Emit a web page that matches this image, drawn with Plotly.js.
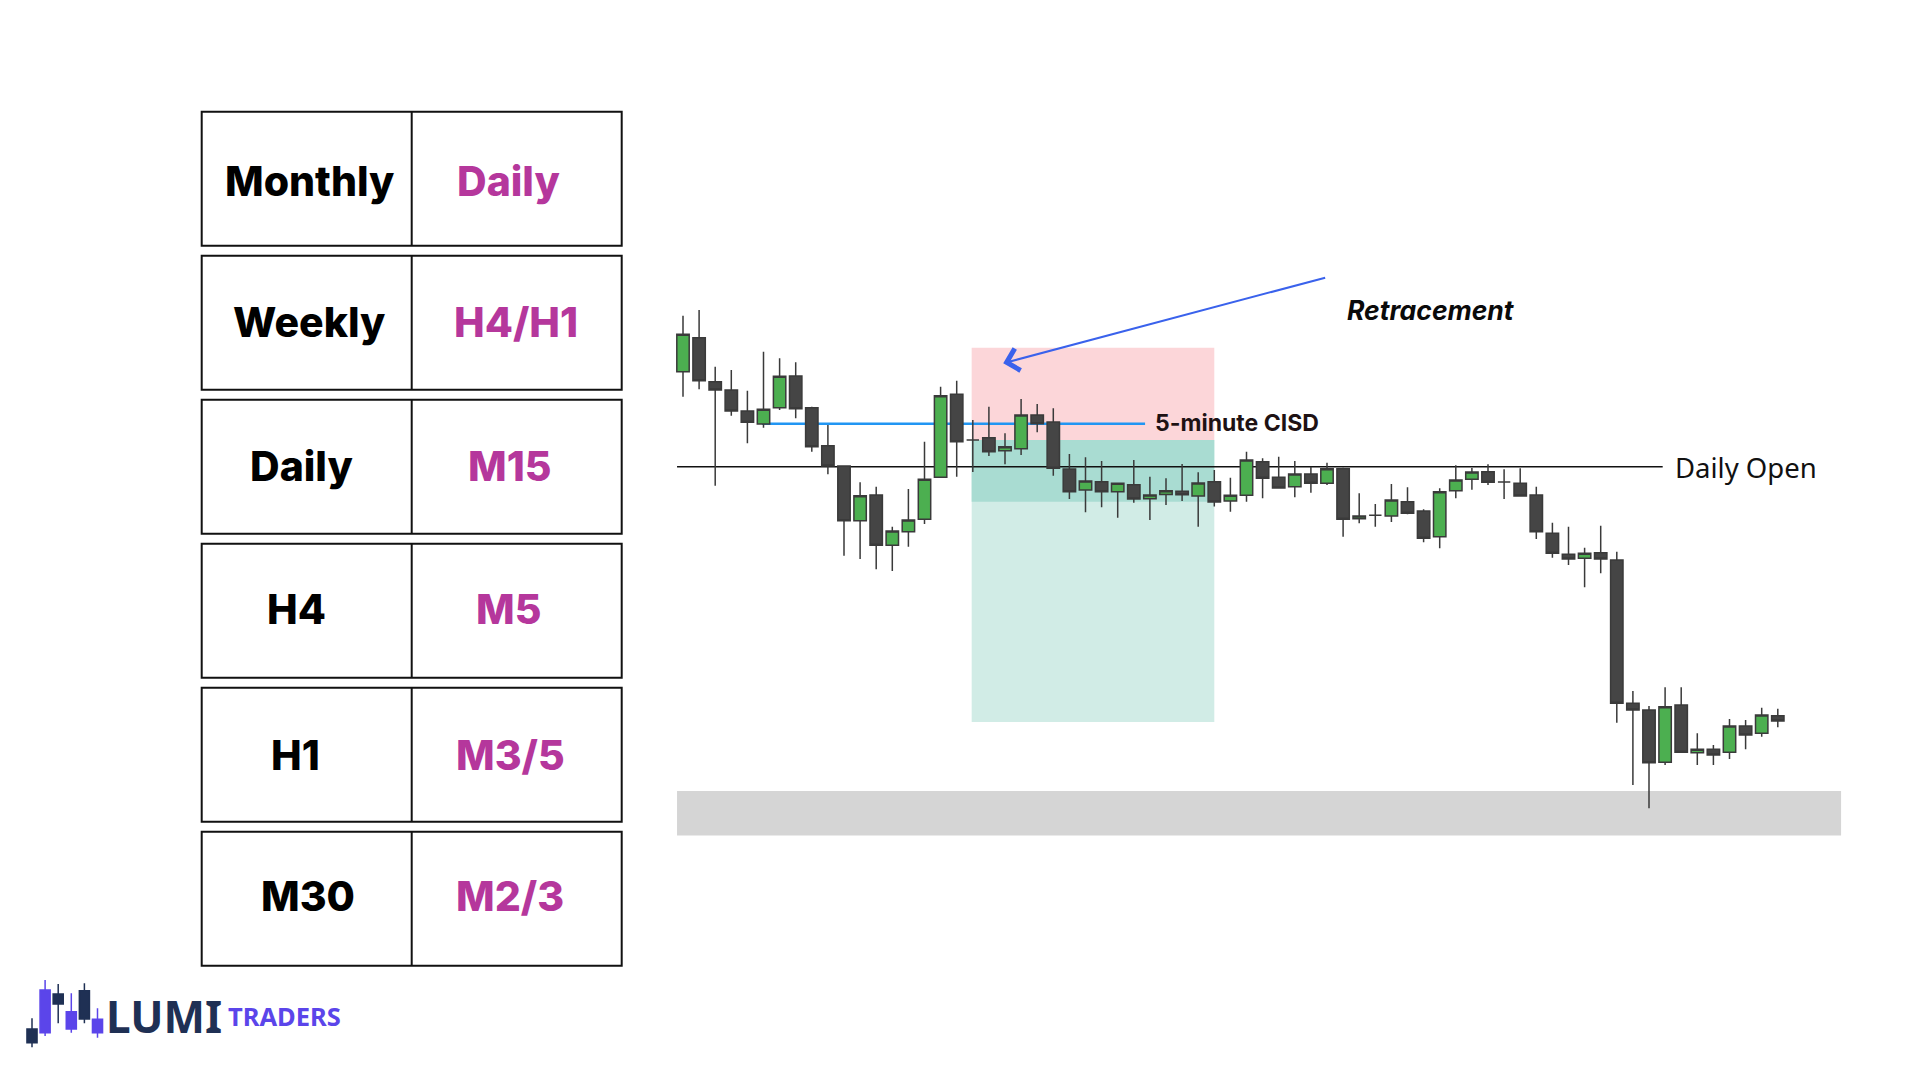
<!DOCTYPE html>
<html>
<head>
<meta charset="utf-8">
<script src="https://cdn.plot.ly/plotly-3.0.1.min.js"></script>
<style>html,body{margin:0;padding:0;background:#fff;}#chart{width:1920px;height:1080px;}</style>
</head>
<body>
<div id="chart"></div>
<script>
// ---------- DATA ----------
const times = ["08:00","08:05","08:10","08:15","08:20","08:25","08:30","08:35","08:40","08:45",
"08:50","08:55","09:00","09:05","09:10","09:15","09:20","09:25","09:30","09:35",
"09:40","09:45","09:50","09:55","10:00","10:05","10:10","10:15","10:20","10:25",
"10:30","10:35","10:40","10:45","10:50","10:55","11:00","11:05","11:10","11:15",
"11:20","11:25","11:30","11:35","11:40","11:45","11:50","11:55","12:00","12:05",
"12:10","12:15","12:20","12:25","12:30","12:35","12:40","12:45","12:50","12:55",
"13:00","13:05","13:10","13:15","13:20","13:25","13:30","13:35","13:40"];
const openP  = [708.3,742.3,698.3,690,669,656,672.3,704,672.3,634.3,
614,559.3,585,534.7,548.3,560.7,602.7,685.7,640,642.3,
629.3,631.3,665,658,611,590,598.3,588.3,595.3,581.3,
585.5,588.7,584,598.3,579,584.7,618.3,602.7,593.3,606,
596.7,611.3,561.3,564.7,564,578.3,569,543.3,589.3,600.7,
608.3,598,596.7,585,546.7,525.7,521.7,527.3,520,376.7,
370,317.7,375,327.3,330.7,327.7,354,346.7,364.3];
const highP  = [764.3,770,713.3,710,689.3,728.3,721.7,717.7,673.3,655,
614,597.7,593.3,553.3,591,638.3,693.3,699.3,660,673.3,
646.7,681,676,671.7,626,622.7,619,597,620,603.3,
601.7,616,607.7,610,602.3,628.3,621.7,623.3,619,613.3,
617.3,612.3,586.7,576,596,592.7,570.7,591.7,614.7,612,
615.7,610.7,611.7,593.3,557.3,553.3,532.3,554.3,528.3,389,
374,392.7,392.7,346.7,335,361,360,372.3,371.3];
const lowP   = [683.3,690.7,594.3,664.3,636.7,652.3,670,661.7,628.3,605.7,
524.3,521,510.7,509,533.3,556,602.7,603.3,608,624,
615.7,625,647.7,604.3,581,567.7,572.7,562.3,577.3,560,
575,579,553.3,573.5,568.3,578.3,581.7,591.7,582.7,587.3,
595,543.3,556.7,553.3,558,565.7,537.7,531.7,581.7,590.3,
595,581,583.3,541,522.3,515,492.7,506.7,357.3,295,
271.7,315,327.7,315,315,321,330.7,343.3,352.7];
const closeP = [745.7,699.3,690,669,657.7,670.7,703.7,671.3,633.3,614,
559.3,584.3,534.7,549,560,600.7,684.3,638.3,640,628.3,
633.3,665,656.3,611.7,588.3,599,588.3,596.7,581,585,
589.3,585.3,597,578,584.7,620,601.7,592,606,596.7,
611.3,560.7,564,564.7,580,566.7,541.7,588.3,600,608,
597.7,598,584,548.3,526.7,521,526.7,521,376.7,370,
317.3,373.3,327.7,330.7,325,354,345,365,359];

// key levels / zones (price units)
const dailyOpen = 613.3;
const cisdLevel = 656.3;
const riskZone = {from: 17.93, to: 33.0, top: 732.3, bottom: 640};
const targetZone = {from: 17.93, to: 33.0, top: 640, bottom: 358};
const fvgBand = {from: 17.93, to: 33.0, top: 640, bottom: 578.3};
const supportZone = {from: -0.37, to: 71.93, top: 289, bottom: 244.5};
const dailyOpenSpan = [-0.37, 60.85];
const cisdSpan = [4.9, 28.7];
const arrowTip = [19.89, 716.7];
const arrowTail = [39.98, 802.7];

// timeframe table
const htfLabels = ["Monthly","Weekly","Daily","H4","H1","M30"];
const ltfLabels = ["Daily","H4/H1","M15","M5","M3/5","M2/3"];

// logo icon candles
const logoX = [0,1,2,3,4,5];
const logoOpen  = [51,47.3,86,51,89.3,47.3];
const logoHigh  = [61.7,100,96,86.7,96.7,71.7];
const logoLow   = [32.7,44,56.7,47.3,56.7,42.3];
const logoClose = [37.3,90,76,68.3,61,60.7];

// ---------- FIGURE ----------
const W = 1920, H = 1080;
const px = v => v / W;
const py = v => 1 - v / H;

const traces = [
  {
    type: 'candlestick', x: times, open: openP, high: highP, low: lowP, close: closeP,
    xaxis: 'x', yaxis: 'y', whiskerwidth: 0,
    increasing: {fillcolor: '#4caf50', line: {color: '#3a3a3a', width: 1.5}},
    decreasing: {fillcolor: '#454545', line: {color: '#3a3a3a', width: 1.5}},
    hoverinfo: 'skip'
  },
  {
    type: 'candlestick', x: logoX, open: logoOpen, high: logoHigh, low: logoLow, close: logoClose,
    xaxis: 'x2', yaxis: 'y2', whiskerwidth: 0,
    increasing: {fillcolor: '#5b45ea', line: {color: '#5b45ea', width: 1.5}},
    decreasing: {fillcolor: '#1f3054', line: {color: '#1f3054', width: 1.5}},
    hoverinfo: 'skip'
  }
];

const shapes = [];
function zoneRect(z, color) {
  shapes.push({type: 'rect', xref: 'x', yref: 'y', x0: z.from, x1: z.to, y0: z.bottom, y1: z.top,
    fillcolor: color, line: {width: 0}, layer: 'below'});
}
zoneRect(riskZone, '#fcd6d9');
zoneRect(targetZone, '#d1ece6');
zoneRect(fvgBand, '#a9dcd2');
zoneRect(supportZone, '#d5d5d5');
shapes.push({type: 'line', xref: 'x', yref: 'y', x0: dailyOpenSpan[0], x1: dailyOpenSpan[1],
  y0: dailyOpen, y1: dailyOpen, line: {color: '#111111', width: 1.5}, layer: 'below'});
shapes.push({type: 'line', xref: 'x', yref: 'y', x0: cisdSpan[0], x1: cisdSpan[1],
  y0: cisdLevel, y1: cisdLevel, line: {color: '#2196f3', width: 2.5}, layer: 'below'});

// table
const tableLeft = 201.7, tableRight = 621.7, tableDiv = 411.7, rowTop0 = 111.7, rowH = 134, rowPitch = 144;
const leftCenters = [309, 309, 301, 296.5, 295, 308];
const rightCenters = [508, 515.7, 510, 508, 510, 509.6];
const textCenterY = [180.7, 322.2, 465.7, 608.7, 754.7, 895.7];
const annotations = [];
htfLabels.forEach((lab, k) => {
  const t = rowTop0 + rowPitch * k, b = t + rowH;
  shapes.push({type: 'rect', xref: 'paper', yref: 'paper', x0: px(tableLeft), x1: px(tableRight),
    y0: py(b), y1: py(t), line: {color: '#111111', width: 2}, fillcolor: 'rgba(0,0,0,0)'});
  shapes.push({type: 'line', xref: 'paper', yref: 'paper', x0: px(tableDiv), x1: px(tableDiv),
    y0: py(b), y1: py(t), line: {color: '#111111', width: 2}});
  const cy = py(textCenterY[k]);
  annotations.push({xref: 'paper', yref: 'paper', x: px(leftCenters[k]), y: cy, text: lab, showarrow: false,
    xanchor: 'center', yanchor: 'middle',
    font: {family: 'Inter, Lato, sans-serif', size: 41, weight: 800, color: '#000000'}});
  annotations.push({xref: 'paper', yref: 'paper', x: px(rightCenters[k]), y: cy, text: ltfLabels[k], showarrow: false,
    xanchor: 'center', yanchor: 'middle',
    font: {family: 'Inter, Lato, sans-serif', size: 41, weight: 800, color: '#b5379c'}});
});

// chart labels
annotations.push({xref: 'x', yref: 'y', x: 29.2, y: 1080 - 423.3, text: '5-minute CISD', showarrow: false,
  xanchor: 'left', yanchor: 'middle', font: {family: 'Inter, sans-serif', size: 23, weight: 700, color: '#1e1214'}});
annotations.push({xref: 'x', yref: 'y', x: 61.5, y: 1080 - 467, text: 'Daily Open', showarrow: false,
  xanchor: 'left', yanchor: 'middle', font: {family: 'Noto Sans, sans-serif', size: 27.5, color: '#111111'}});
annotations.push({xref: 'x', yref: 'y', x: 41.1, y: 1080 - 310, text: '<i>Retracement</i>', showarrow: false,
  xanchor: 'left', yanchor: 'middle', font: {family: 'Inter, sans-serif', size: 26.5, weight: 700, color: '#0a0a0a'}});
annotations.push({xref: 'x', yref: 'y', x: arrowTip[0], y: arrowTip[1], axref: 'x', ayref: 'y',
  ax: arrowTail[0], ay: arrowTail[1], text: '', showarrow: true, arrowhead: 4, arrowsize: 2.2,
  arrowwidth: 2, arrowcolor: '#3a62ec', standoff: 0});

// logo text
annotations.push({xref: 'paper', yref: 'paper', x: px(104), y: py(1016), text: 'LUMI', showarrow: false,
  xanchor: 'left', yanchor: 'middle', font: {family: 'Noto Sans, sans-serif', size: 44, weight: 700, color: '#1f3054'}});
annotations.push({xref: 'paper', yref: 'paper', x: px(226), y: py(1016), text: 'TRADERS', showarrow: false,
  xanchor: 'left', yanchor: 'middle', font: {family: 'Noto Sans, sans-serif', size: 25.5, weight: 700, color: '#5b45ea'}});

const layout = {
  width: W, height: H, margin: {l: 0, r: 0, t: 0, b: 0, pad: 0},
  paper_bgcolor: '#ffffff', plot_bgcolor: 'rgba(0,0,0,0)', showlegend: false,
  boxgap: 0.23, boxgroupgap: 0, hovermode: false,
  xaxis: {type: 'category', domain: [0, 1], range: [-42.422, 76.832], visible: false,
    rangeslider: {visible: false}, fixedrange: true},
  yaxis: {domain: [0, 1], range: [0, 1080], visible: false, fixedrange: true},
  xaxis2: {domain: [0, 200 / 1920], range: [-2.443, 12.824], visible: false, anchor: 'y2',
    rangeslider: {visible: false}, fixedrange: true},
  yaxis2: {domain: [0, 105 / 1080], range: [0, 105], visible: false, anchor: 'x2', fixedrange: true},
  shapes: shapes, annotations: annotations
};

Plotly.newPlot('chart', traces, layout, {staticPlot: true, displayModeBar: false});
</script>
</body>
</html>
